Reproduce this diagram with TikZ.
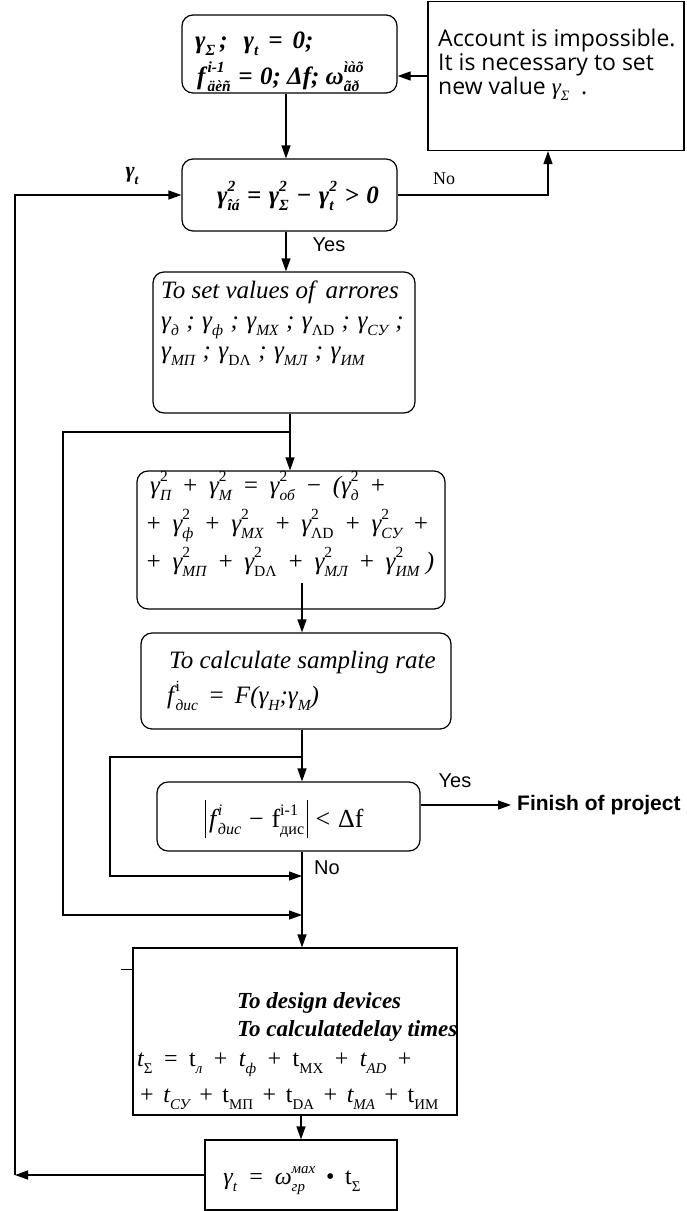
\documentclass[tikz,border=0pt]{standalone}
\usepackage{fontspec}
\setmainfont{Liberation Serif}
\newfontfamily\arialf{Liberation Sans}
\newfontfamily\segoef{Open Sans}
\usetikzlibrary{arrows.meta}
\makeatletter
\newcommand{\scrsz}{\fontsize{\fpeval{0.62*\f@size}}{0}\selectfont}
\makeatother
\newlength\opsp
\newcommand{\op}[1]{\hspace{\opsp}#1\hspace{\opsp}}
\newcommand{\dn}[1]{\raisebox{-0.3em}{\scrsz #1}}
\newcommand{\ud}[2]{{\setbox0\hbox{\raisebox{0.45em}{\scrsz #1}}\setbox2\hbox{\raisebox{-0.3em}{\scrsz #2}}\ifdim\wd0>\wd2 \rlap{\box2}\box0\else\rlap{\box0}\box2\fi}}
\newcommand{\gsq}[1]{γ\ud{\upshape 2}{#1}}
\newcommand{\semi}{\hspace{0.3em};\hspace{0.3em}}
\newcommand{\fs}[1]{\fontsize{#1}{#1}\selectfont}
\newcommand{\vbar}{\rule[-0.42em]{0.6pt}{1.45em}}
\begin{document}
\begin{tikzpicture}[x=1pt,y=-1pt,
  rbox/.style={draw, line width=1.2pt, rounded corners=11pt, inner sep=0pt},
  sbox/.style={draw, line width=1.2pt, inner sep=0pt},
  ln/.style={line width=1.2pt},
  arr/.style={line width=1.2pt, -{Triangle[length=13pt,width=9pt]}},
  tl/.style={inner sep=0pt, anchor=base west},
  tc/.style={inner sep=0pt, anchor=base},
  lbl/.style={inner sep=0pt},
  fbi/.style={font=\fs{25}\bfseries\itshape\setlength\opsp{0.3em}},
  fit/.style={font=\fs{25}\itshape\setlength\opsp{0.42em}},
  fseg/.style={font=\fs{23}\segoef},
  far/.style={font=\fs{20}\arialf},
]
\useasboundingbox (0,0) rectangle (686,1211);
\fill[white] (0,0) rectangle (686,1211);

% boxes
\node[rbox, minimum width=215pt, minimum height=78pt] (b1) at (289.5,54) {};
\node[sbox, minimum width=256pt, minimum height=149pt] (b2) at (556,76) {};
\node[rbox, minimum width=215pt, minimum height=72pt] (b3) at (289.5,195) {};
\node[rbox, minimum width=262pt, minimum height=141pt] (b4) at (284,342.5) {};
\node[rbox, minimum width=308pt, minimum height=138pt] (b5) at (291,540) {};
\node[rbox, minimum width=310pt, minimum height=96pt] (b6) at (296,681) {};
\node[rbox, minimum width=263pt, minimum height=69pt] (b7) at (288.5,816.5) {};
\node[sbox, minimum width=324pt, minimum height=167pt] (b8) at (295,1031.5) {};
\node[sbox, minimum width=192pt, minimum height=70pt] (b9) at (301,1175) {};

% texts
\node[tl, font=\fs{25}\bfseries\itshape\setlength\opsp{0.4em}] (t1a) at (195,48) {γ\dn{Σ}\,;\hspace{16pt}γ\dn{t}\op{=}0;};
\node[tl, fbi] (t1b) at (197,84) {f\kern2pt\ud{i-1}{äèñ}\op{=}0; Δf; ω\ud{ìàõ}{ãð}};

\node[tl, fseg] (t2a) at (438,46) {Account is impossible.};
\node[tl, fseg] (t2b) at (438,70) {It is necessary to set};
\node[tl, fseg] (t2c) at (438,94) {new value {\rmfamily\itshape γ\dn{Σ}}\ \ .};

\node[tc, fbi] (t3) at (298,203) {γ\ud{2}{îá}\op{=}γ\ud{2}{Σ}\op{−}γ\ud{2}{t}\op{>}0};

\node[tl, fit] (t4a) at (161,298) {To set values of\, arrores};
\node[tl, fit] (t4b) at (161,328) {γ\dn{д}\semi γ\dn{ф}\semi γ\dn{МХ}\semi γ\dn{\upshape ΛD}\semi γ\dn{СУ}\semi};
\node[tl, fit] (t4c) at (161,358) {γ\dn{МП}\semi γ\dn{\upshape DΛ}\semi γ\dn{МЛ}\semi γ\dn{ИМ}};

\node[tl, fit] (t5a) at (150,493) {\gsq{П}\op{+}\gsq{М}\op{=}\gsq{об}\op{−}(\gsq{д}\op{+}};
\node[tl, fit] (t5b) at (145,531) {+\hspace{\opsp}\gsq{ф}\op{+}\gsq{МХ}\op{+}\gsq{\upshape ΛD}\op{+}\gsq{СУ}\op{+}};
\node[tl, fit] (t5c) at (145,569) {+\hspace{\opsp}\gsq{МП}\op{+}\gsq{\upshape DΛ}\op{+}\gsq{МЛ}\op{+}\gsq{ИМ} )};

\node[tl, fit] (t6a) at (169,668) {To calculate sampling rate};
\node[tl, font=\fs{25}\itshape\setlength\opsp{0.4em}] (t6b) at (167,703) {f\kern1.5pt\ud{\upshape i}{дис}\op{=}F(γ\dn{H};γ\dn{M})};

\node[tc, font=\fs{26}\setlength\opsp{0.3em}] (t7) at (284,827) {\vbar\kern4pt{\itshape f\kern1.5pt\ud{i}{дис}}\op{−}f\ud{i-1}{дис}\kern3pt\vbar\op{<}Δf};

\node[tl, font=\fs{23}\bfseries\itshape] (t8a) at (237,1008) {To design devices};
\node[tl, font=\fs{23}\bfseries\itshape] (t8b) at (237,1036) {To calculatedelay times};
\node[tl, font=\fs{24}\setlength\opsp{0.48em}] (t8c) at (137,1066) {{\itshape t}\dn{Σ}\op{=}t\dn{\itshape л}\op{+}{\itshape t}\dn{\itshape ф}\op{+}t\dn{МХ}\op{+}{\itshape t}\dn{\itshape AD}\op{+}};
\node[tl, font=\fs{24}\setlength\opsp{0.4em}] (t8d) at (140,1102) {+\hspace{\opsp}{\itshape t}\dn{\itshape СУ}\op{+}t\dn{МП}\op{+}t\dn{DA}\op{+}{\itshape t}\dn{\itshape МА}\op{+}t\dn{ИМ}};

\node[tc, font=\fs{24}\itshape\setlength\opsp{0.45em}] (t9) at (292,1184) {γ\dn{t}\op{=}ω\ud{мах}{гр}\op{\upshape •}t\dn{\upshape Σ}};

% labels
\node[lbl, font=\fs{22}\bfseries\itshape] (lg) at (132,176) {γ\dn{t}};
\node[lbl, font=\fs{18}] (lno1) at (444,179) {No};
\node[lbl, far] (lyes1) at (329,245) {Yes};
\node[lbl, far] (lyes2) at (455,781) {Yes};
\node[lbl, far] (lno2) at (327,868) {No};
\node[lbl, anchor=west, font=\fs{21}\arialf\bfseries] (fin) at (517,805) {Finish of project};

% coordinates
\coordinate (x1) at (286,0);
\coordinate (x2) at (548,0);
\coordinate (c1) at (15,0);
\coordinate (j1) at (290,432);
\coordinate (s5) at (302,583);
\coordinate (j2) at (302,757);
\coordinate (j4) at (302,876);
\coordinate (j3) at (302,915);

% connectors
\draw[arr] (b2.west) -- (b2.west -| b1.east);
\draw[arr] (b1.south -| x1) -- (b3.north -| x1);
\draw[arr] (b3.east) -| (x2 |- b2.south);
\draw[arr] (b3.south -| x1) -- (b4.north -| x1);
\draw[ln] (b4.south -| j1) -- (j1);
\draw[arr] (j1) -- (j1 |- b5.north);
\draw[arr] (j1) -| (63,915) -- (j3);
\draw[arr] (s5) -- (s5 |- b6.north);
\draw[ln] (b6.south -| j2) -- (j2);
\draw[arr] (j2) -- (j2 |- b7.north);
\draw[arr] (j2) -| (110,876) -- (j4);
\draw[arr] (b7.east |- fin.west) -- ([xshift=-6pt]fin.west);
\draw[arr] (b7.south -| j4) -- (j4 |- b8.north);
\draw[arr] (b8.south -| b9.north) -- (b9.north);
\draw[arr] (b9.west) -- (b9.west -| c1);
\draw[arr] (b9.west -| c1) |- (b3.west);
\draw[line width=1pt] (121,969) -- (b8.west |- 0,969);
\end{tikzpicture}
\end{document}
